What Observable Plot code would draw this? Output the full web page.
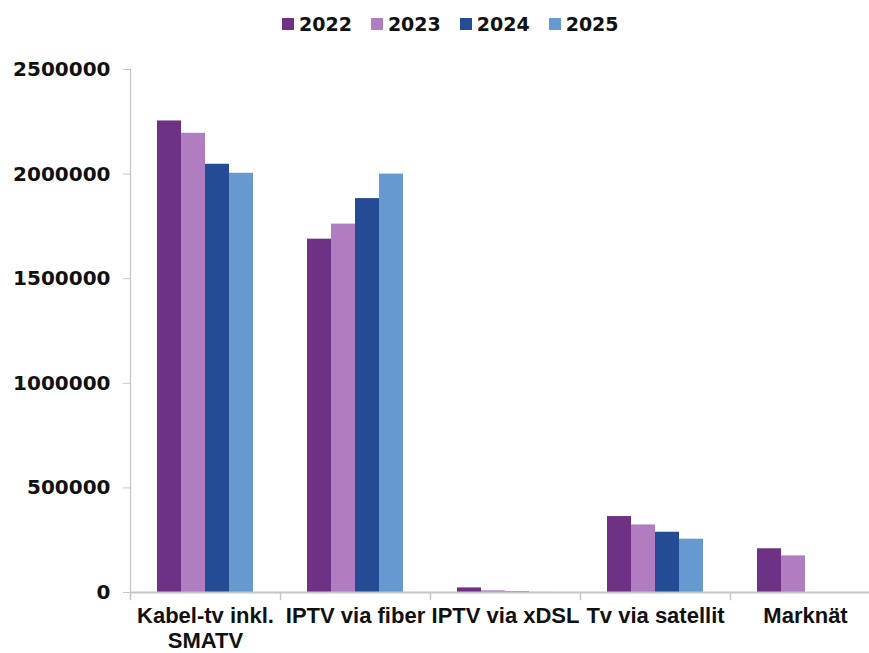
<!DOCTYPE html>
<html>
<head>
<meta charset="utf-8">
<script src="https://cdn.jsdelivr.net/npm/d3@7"></script>
<script src="https://cdn.jsdelivr.net/npm/@observablehq/plot@0.6"></script>
<style>
  html, body { margin: 0; padding: 0; background: #fff; }
  body { width: 869px; height: 653px; overflow: hidden; }
  #legend { height: 40px; box-sizing: border-box; padding-top: 8px; padding-left: 282px; display: flex; align-items: center; gap: 19px;
    font-family: "DejaVu Sans", sans-serif; font-weight: bold; font-size: 19px; color: #111; }
  #legend .item { display: flex; align-items: center; gap: 5px; }
  #legend .sw { width: 12px; height: 12px; display: inline-block; }
  #chart svg { overflow: visible; }
</style>
</head>
<body>
<div id="legend"></div>
<div id="chart"></div>
<script>
const categories = ["Kabel-tv inkl. SMATV", "IPTV via fiber", "IPTV via xDSL", "Tv via satellit", "Marknät"];
const categoryLabels = ["Kabel-tv inkl.\nSMATV", "IPTV via fiber", "IPTV via xDSL", "Tv via satellit", "Marknät"];
const years = ["2022", "2023", "2024", "2025"];
const v2022 = [2254000, 1689000, 22000, 363000, 209000];
const v2023 = [2195000, 1761000, 8000, 323000, 175000];
const v2024 = [2047000, 1883000, 3000, 288000, null];
const v2025 = [2004000, 2000000, 500, 255000, null];
const colors = ["#6E3183", "#B07DC0", "#244C95", "#6699CF"];
const yTicks = [0, 500000, 1000000, 1500000, 2000000, 2500000];

const series = [v2022, v2023, v2024, v2025];
const data = [];
categories.forEach((c, i) => years.forEach((y, j) => {
  if (series[j][i] != null) data.push({cat: c, year: y, value: series[j][i]});
}));
const labelOf = new Map(categories.map((c, i) => [c, categoryLabels[i]]));

// legend
const legend = document.getElementById("legend");
years.forEach((y, i) => {
  const it = document.createElement("div");
  it.className = "item";
  it.innerHTML = `<span class="sw" style="background:${colors[i]}"></span><span>${y}</span>`;
  legend.appendChild(it);
});

const axisGrey = "#c6c6c6";
const chart = Plot.plot({
  width: 869,
  height: 613,
  marginTop: 29,
  marginBottom: 61,
  marginLeft: 130,
  marginRight: -11,
  fx: {domain: categories, padding: 0, label: null},
  x: {domain: years, paddingInner: 0, paddingOuter: 1.1, axis: null},
  y: {domain: [0, 2500000], label: null},
  color: {domain: years, range: colors},
  marks: [
    Plot.barY(data, {fx: "cat", x: "year", y: "value", fill: "year"}),
    Plot.frame({anchor: "left", facetAnchor: "left", stroke: axisGrey, strokeWidth: 1.2}),
    Plot.frame({anchor: "left", stroke: axisGrey, strokeWidth: 1.5, insetTop: 523, insetBottom: -7}),
    Plot.ruleY([0], {stroke: axisGrey, strokeWidth: 2}),
    Plot.axisY({ticks: yTicks, tickFormat: d => String(d), tickSize: 7, tickPadding: 13, stroke: axisGrey,
      fill: "#111", fontFamily: "DejaVu Sans", fontWeight: "bold", fontSize: 20, label: null}),
    Plot.axisFx({anchor: "bottom", tickSize: 0, tickPadding: 13, tickFormat: d => labelOf.get(d),
      fill: "#111", fontFamily: "Liberation Sans", fontWeight: "bold", fontSize: 22, lineHeight: 1.14, label: null})
  ]
});
document.getElementById("chart").appendChild(chart);
</script>
</body>
</html>
